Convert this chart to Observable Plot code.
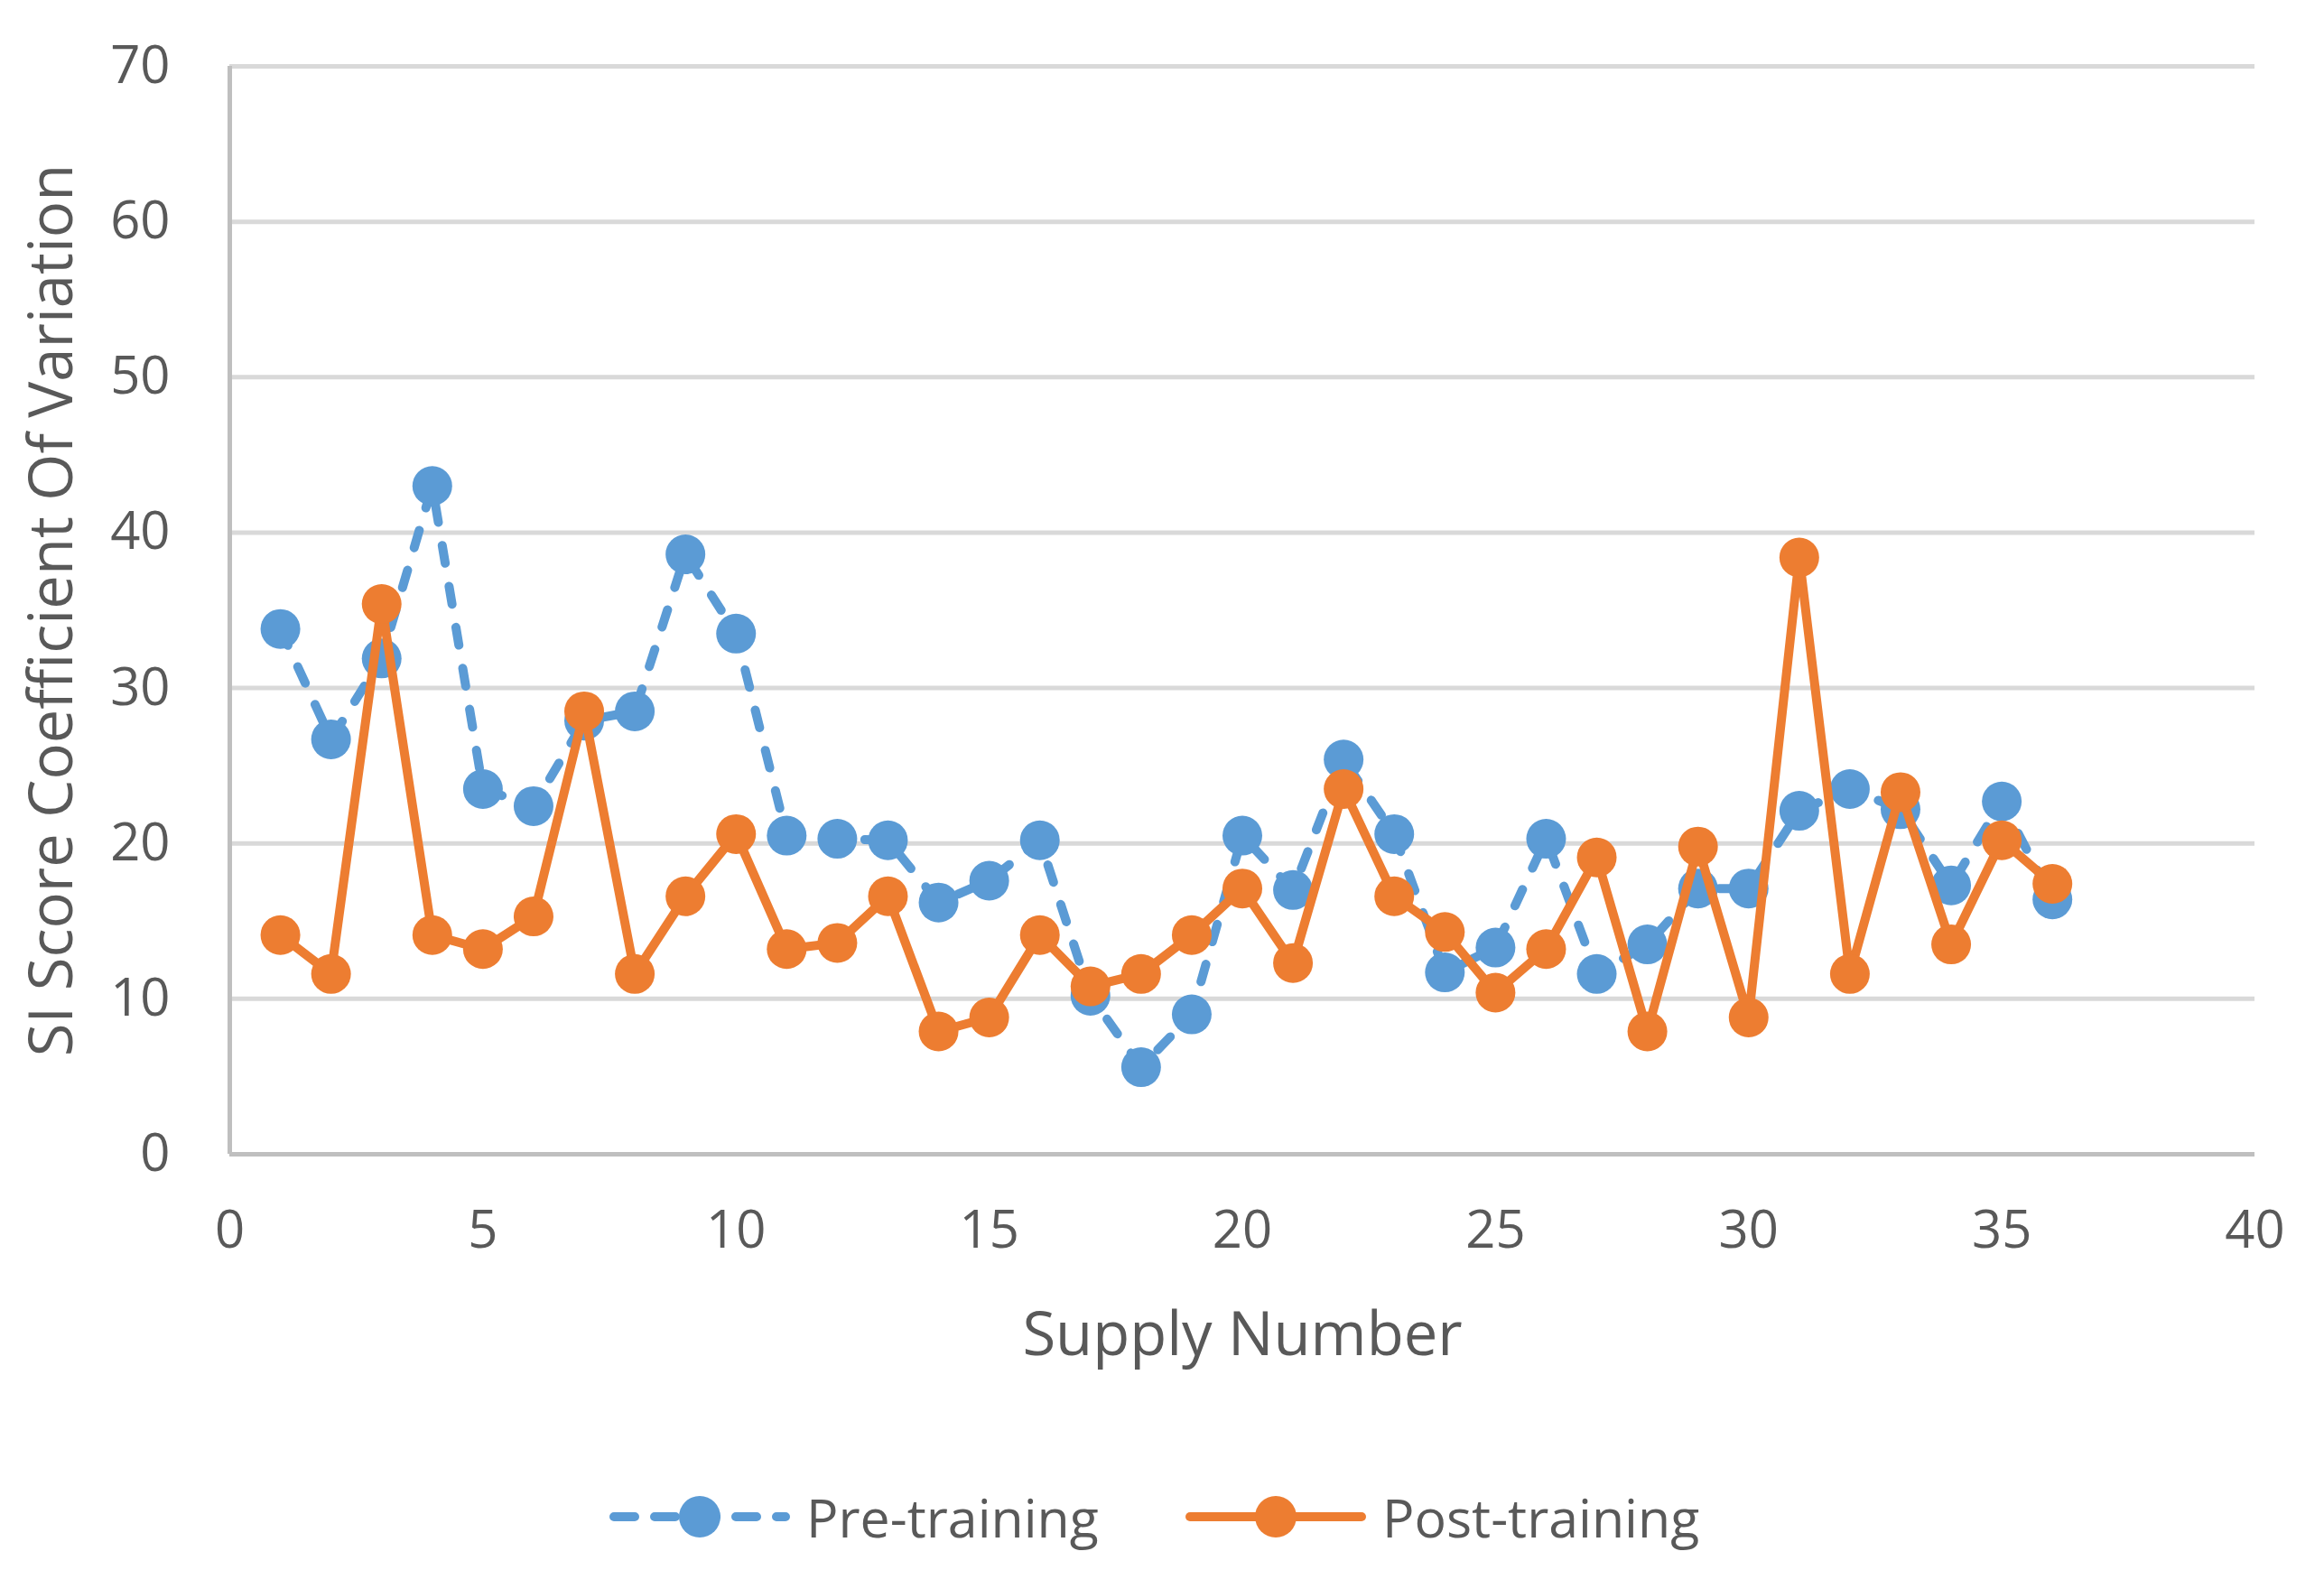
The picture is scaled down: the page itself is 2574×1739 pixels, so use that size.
<!DOCTYPE html>
<html>
<head>
<meta charset="utf-8">
<script src="https://cdn.jsdelivr.net/npm/d3@7"></script>
<script src="https://cdn.jsdelivr.net/npm/@observablehq/plot@0.6"></script>
<style>
  html, body { margin: 0; padding: 0; background: #fff; }
  #wrap { position: relative; width: 2574px; height: 1739px; font-family: "Open Sans", sans-serif; }
  .leg { position: absolute; display: flex; align-items: center; color: #595959; font-size: 59px; }
  .leg svg { display: block; margin-right: 18px; }
</style>
</head>
<body>
<div id="wrap"></div>
<script>
const supply = d3.range(1, 37);
const preTraining = [33.8, 26.7, 31.9, 43.0, 23.5, 22.4, 27.9, 28.5, 38.6, 33.5,
  20.5, 20.3, 20.2, 16.2, 17.6, 20.2, 10.2, 5.6, 9.0, 20.5,
  17.0, 25.4, 20.6, 11.7, 13.3, 20.3, 11.6, 13.5, 17.1, 17.1,
  22.1, 23.5, 22.2, 17.3, 22.7, 16.4];
const postTraining = [14.1, 11.6, 35.4, 14.1, 13.2, 15.3, 28.5, 11.6, 16.6, 20.6,
  13.2, 13.6, 16.6, 7.9, 8.8, 14.1, 10.8, 11.6, 14.1, 17.1,
  12.3, 23.5, 16.6, 14.3, 10.4, 13.2, 19.1, 7.9, 19.8, 8.8,
  38.4, 11.6, 23.3, 13.5, 20.2, 17.4];
const xTicks = [0, 5, 10, 15, 20, 25, 30, 35, 40];
const yTicks = [0, 10, 20, 30, 40, 50, 60, 70];
const seriesNames = ["Pre-training", "Post-training"];
const colors = ["#5b9bd5", "#ed7d31"];

const pre = supply.map((s, i) => ({x: s, y: preTraining[i]}));
const post = supply.map((s, i) => ({x: s, y: postTraining[i]}));

const chart = Plot.plot({
  width: 2574,
  height: 1600,
  marginLeft: 254,
  marginRight: 77,
  marginTop: 73,
  marginBottom: 322,
  style: {fontFamily: "'Open Sans', sans-serif", fontSize: "58px", color: "#595959", background: "#fff"},
  x: {domain: [0, 40]},
  y: {domain: [0, 70]},
  marks: [
    Plot.gridY(yTicks.filter(d => d > 0), {stroke: "#d9d9d9", strokeWidth: 5, strokeOpacity: 1}),
    Plot.ruleY([0], {stroke: "#bfbfbf", strokeWidth: 5}),
    Plot.ruleX([0], {stroke: "#bfbfbf", strokeWidth: 5}),
    Plot.axisX({ticks: xTicks, tickSize: 0, tickPadding: 62, fontSize: 58, fill: "#595959",
      label: "Supply Number", labelAnchor: "center", labelArrow: "none", labelOffset: 222}),
    Plot.axisY({ticks: yTicks, tickSize: 0, tickPadding: 66, fontSize: 58, fill: "#595959",
      label: "SI Score Coefficient Of Variation", labelAnchor: "center", labelArrow: "none", labelOffset: 222}),
    Plot.line(pre, {x: "x", y: "y", stroke: colors[0], strokeWidth: 10, strokeDasharray: "20,26", strokeLinecap: "round", strokeLinejoin: "round"}),
    Plot.dot(pre, {x: "x", y: "y", r: 22, fill: colors[0], stroke: "none"}),
    Plot.line(post, {x: "x", y: "y", stroke: colors[1], strokeWidth: 10, strokeLinecap: "round", strokeLinejoin: "round"}),
    Plot.dot(post, {x: "x", y: "y", r: 22, fill: colors[1], stroke: "none"})
  ]
});
const wrap = document.getElementById("wrap");
wrap.appendChild(chart);
chart.querySelectorAll("g[aria-label='x-axis label'], g[aria-label='y-axis label']").forEach(g => g.setAttribute("font-size", "67"));
chart.querySelectorAll("g[aria-label='x-axis label'] text, g[aria-label='y-axis label'] text").forEach(t => t.setAttribute("font-size", "67"));

// legend
const legPos = [{left: 675, top: 1640}, {left: 1313, top: 1640}];
seriesNames.forEach((name, i) => {
  const d = document.createElement("div");
  d.className = "leg";
  d.style.left = legPos[i].left + "px";
  d.style.top = legPos[i].top + "px";
  const dash = i === 0 ? 'stroke-dasharray="23,22"' : '';
  d.innerHTML = `<svg width="200" height="50"><line x1="5" y1="25" x2="195" y2="25" stroke="${colors[i]}" stroke-width="10" stroke-linecap="round" ${dash}/><circle cx="100" cy="25" r="23" fill="${colors[i]}"/></svg><span>${name}</span>`;
  wrap.appendChild(d);
});
</script>
</body>
</html>
